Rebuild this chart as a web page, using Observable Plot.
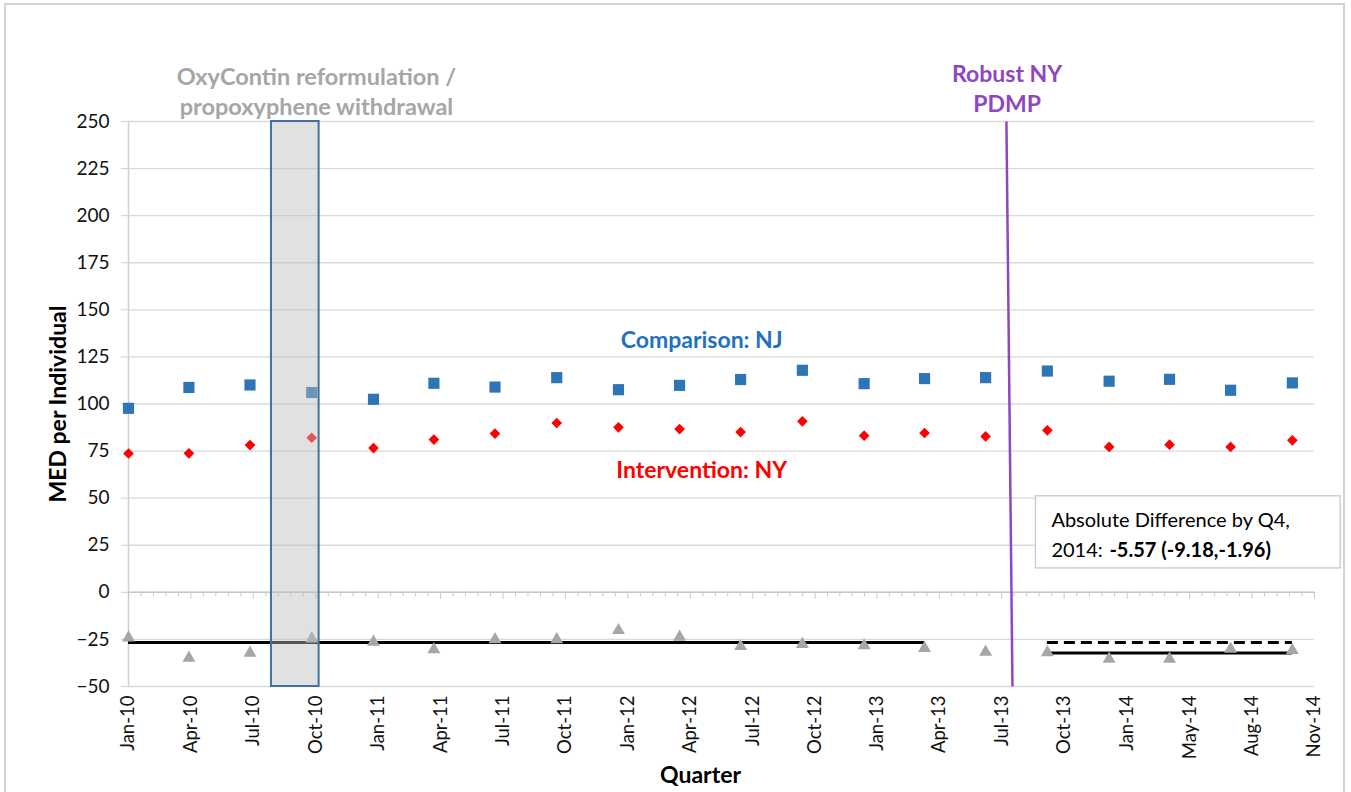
<!DOCTYPE html>
<html>
<head>
<meta charset="utf-8">
<script src="https://cdn.jsdelivr.net/npm/d3@7"></script>
<script src="https://cdn.jsdelivr.net/npm/@observablehq/plot@0.6"></script>
<style>
  html, body { margin: 0; padding: 0; background: #fff; }
  #frame { position: absolute; left: 4px; top: 3px; width: 1341px; height: 830px; border: 2px solid #d2d2d2; box-sizing: border-box; }
  #chart { position: absolute; left: 0; top: 0; }
  #chart svg { overflow: visible; }
</style>
</head>
<body>
<div id="frame"></div>
<div id="chart"></div>
<script>
// ---- data ----
const quarters = ["2010-01-01","2010-04-01","2010-07-01","2010-10-01","2011-01-01","2011-04-01","2011-07-01","2011-10-01",
  "2012-01-01","2012-04-01","2012-07-01","2012-10-01","2013-01-01","2013-04-01","2013-07-01","2013-10-01",
  "2014-01-01","2014-04-01","2014-07-01","2014-10-01"];
const comparisonNJ = [97.7,108.8,110.1,106.1,102.5,111.0,109.0,114.0,107.6,109.9,113.0,117.9,110.8,113.5,114.0,117.5,112.1,113.1,107.3,111.2];
const interventionNY = [73.7,73.8,78.2,82.1,76.6,81.1,84.3,89.9,87.6,86.7,85.1,90.8,83.2,84.6,82.8,86.0,77.2,78.4,77.2,80.7];
const difference = [-24.1,-34.9,-32.2,-24.6,-26.4,-30.3,-25.0,-25.0,-20.2,-23.7,-28.7,-27.6,-28.3,-29.7,-31.7,-31.9,-35.4,-35.4,-30.1,-30.8];

const tickDates = ["2010-01-01","2010-04-04","2010-07-06","2010-10-07","2011-01-08","2011-04-11","2011-07-13","2011-10-14",
  "2012-01-15","2012-04-17","2012-07-19","2012-10-20","2013-01-20","2013-04-23","2013-07-25","2013-10-26",
  "2014-01-28","2014-05-01","2014-08-02","2014-11-03"];
const tickLabels = ["Jan-10","Apr-10","Jul-10","Oct-10","Jan-11","Apr-11","Jul-11","Oct-11","Jan-12","Apr-12","Jul-12","Oct-12",
  "Jan-13","Apr-13","Jul-13","Oct-13","Jan-14","May-14","Aug-14","Nov-14"];
const yTicks = [-50,-25,0,25,50,75,100,125,150,175,200,225,250];

// pre / post period mean lines of the difference
const preMean = {start: "2010-01-01", end: "2013-04-01", value: -26.7};
const postCounterfactual = {start: "2013-10-01", end: "2014-10-01", value: -26.6};
const postMean = {start: "2013-10-01", end: "2014-10-01", value: -32.2};

// events
const oxyWindow = {start: "2010-08-02", end: "2010-10-12"};
const pdmpLine = {top: "2013-08-01", bottom: "2013-08-10"};

// ---- build ----
const D = s => new Date(s + "T00:00:00Z");
const rows = quarters.map((q, i) => ({date: D(q), nj: comparisonNJ[i], ny: interventionNY[i], diff: difference[i]}));
const ticks = tickDates.map(D);
const labelOf = new Map(ticks.map((d, i) => [+d, tickLabels[i]]));
// minor tick marks on the zero axis: 5 per labelled interval
const minor = [];
for (let i = 0; i < ticks.length - 1; i++) {
  for (let k = 1; k < 5; k++) minor.push(new Date(+ticks[i] + (ticks[i + 1] - ticks[i]) * k / 5));
}
const yMin = yTicks[0], yMax = yTicks[yTicks.length - 1];

const font = "Lato, 'Open Sans', sans-serif";
const big = 23;
const chart = Plot.plot({
  width: 1351,
  height: 792,
  marginLeft: 128,
  marginRight: 37,
  marginTop: 121,
  marginBottom: 106,
  style: {fontFamily: font, background: "transparent", overflow: "visible"},
  x: {type: "utc", domain: [ticks[0], ticks[ticks.length - 1]]},
  y: {domain: [yMin, yMax]},
  marks: [
    Plot.gridY(yTicks, {stroke: "#d9d9d9", strokeOpacity: 1, strokeWidth: 1.3}),
    Plot.axisY({ticks: yTicks, tickSize: 7, tickPadding: 12, fontSize: 19, stroke: "#d0d0d0", fill: "#111", label: null}),
    Plot.axisX({ticks: ticks, tickFormat: d => labelOf.get(+d), tickRotate: -90, tickSize: 0, tickPadding: 9, fontSize: 18.5, fill: "#111", label: null}),
    Plot.ruleX([ticks[0]], {y1: yMin, y2: yMax, stroke: "#d0d0d0", strokeWidth: 1.5}),
    Plot.ruleY([0], {stroke: "#c8c8c8", strokeWidth: 1.5}),
    Plot.ruleX(minor, {y1: 0, y2: -2.4, stroke: "#c8c8c8"}),
    Plot.ruleX(ticks, {y1: 0, y2: -3.6, stroke: "#c8c8c8"}),
    // mean lines
    Plot.ruleY([preMean], {y: "value", x1: d => D(d.start), x2: d => D(d.end), stroke: "#000", strokeWidth: 3}),
    Plot.ruleY([postCounterfactual], {y: "value", x1: d => D(d.start), x2: d => D(d.end), stroke: "#000", strokeWidth: 3, strokeDasharray: "11,6"}),
    Plot.ruleY([postMean], {y: "value", x1: d => D(d.start), x2: d => D(d.end), stroke: "#000", strokeWidth: 3}),
    // points
    Plot.dot(rows, {x: "date", y: "diff", symbol: "triangle", r: 4.8, fill: "#a6a6a6", stroke: "none"}),
    Plot.dot(rows, {x: "date", y: "nj", symbol: "square", r: 6.3, fill: "#2e75b6", stroke: "none"}),
    Plot.dot(rows, {x: "date", y: "ny", symbol: "diamond2", r: 4.8, fill: "#ff0000", stroke: "none"}),
    // shaded window
    Plot.rect([oxyWindow], {x1: d => D(d.start), x2: d => D(d.end), y1: yMin, y2: yMax, fill: "#bdbdbd", fillOpacity: 0.45, stroke: "#41719c", strokeWidth: 2}),
    // PDMP line
    Plot.link([pdmpLine], {x1: d => D(d.top), y1: yMax, x2: d => D(d.bottom), y2: yMin, stroke: "#8e47c1", strokeWidth: 2.5}),
    // annotations
    Plot.text(["OxyContin reformulation /"], {x: D("2010-10-08"), y: 273.5, fill: "#a6a6a6", fontWeight: "bold", fontSize: big + 0.5}),
    Plot.text(["propoxyphene withdrawal"], {x: D("2010-10-08"), y: 257.5, fill: "#a6a6a6", fontWeight: "bold", fontSize: big + 0.5}),
    Plot.text(["Robust NY"], {x: D("2013-08-02"), y: 275, fill: "#8e47c1", fontWeight: "bold", fontSize: big}),
    Plot.text(["PDMP"], {x: D("2013-08-02"), y: 259, fill: "#8e47c1", fontWeight: "bold", fontSize: big}),
    Plot.text(["Comparison: NJ"], {x: D("2012-05-04"), y: 133.8, fill: "#1f72c2", fontWeight: "bold", fontSize: big}),
    Plot.text(["Intervention: NY"], {x: D("2012-05-04"), y: 64.8, fill: "#ff0000", fontWeight: "bold", fontSize: big}),
    // result box
    Plot.rect([{}], {x1: D("2013-09-14"), x2: D("2014-12-12"), y1: 12.7, y2: 51, fill: "#fff", stroke: "#c8c8c8", strokeWidth: 1.3}),
    Plot.text(["Absolute Difference by Q4,"], {x: D("2013-10-07"), y: 38.2, textAnchor: "start", fill: "#000", fontSize: 20}),
    Plot.text(["2014:"], {x: D("2013-10-07"), y: 22.3, textAnchor: "start", fill: "#000", fontSize: 20}),
    Plot.text(["-5.57 (-9.18,-1.96)"], {x: D("2013-10-07"), y: 22.3, dx: 58, textAnchor: "start", fill: "#000", fontSize: 20, fontWeight: "bold"}),
    // axis titles
    Plot.text(["MED per Individual"], {frameAnchor: "left", dx: -70, rotate: -90, textAnchor: "middle", lineAnchor: "middle", fill: "#000", fontWeight: "bold", fontSize: big}),
    Plot.text(["Quarter"], {frameAnchor: "bottom", dx: -21, dy: 89, textAnchor: "middle", lineAnchor: "middle", fill: "#000", fontWeight: "bold", fontSize: big})
  ]
});
document.getElementById("chart").appendChild(chart);
</script>
</body>
</html>
